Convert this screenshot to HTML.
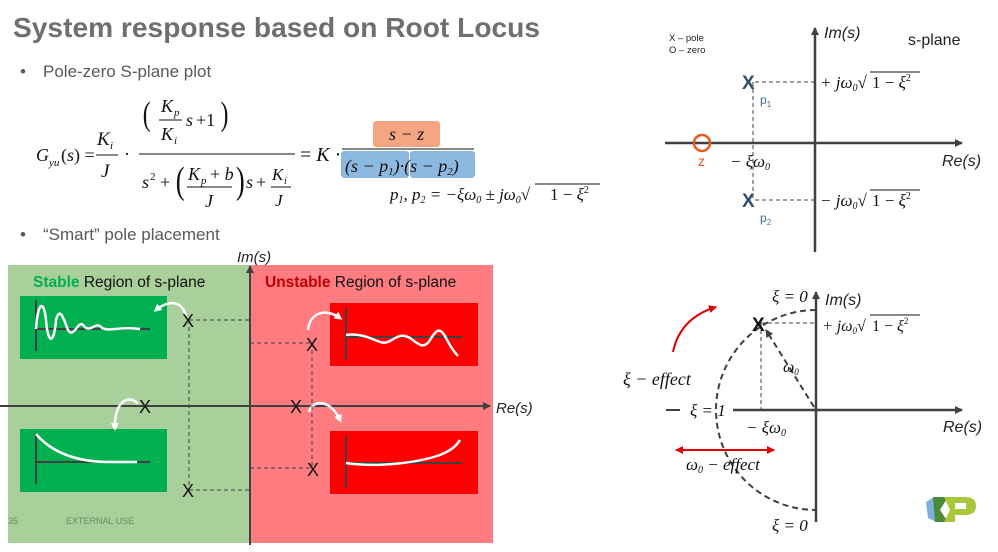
<!DOCTYPE html>
<html><head><meta charset="utf-8"><style>
html,body{margin:0;padding:0;background:#fff;}
svg{display:block;}
text{font-family:"Liberation Sans",sans-serif;}
.m{font-family:"Liberation Serif",serif;font-style:italic;fill:#111;}
.mr{font-family:"Liberation Serif",serif;fill:#111;}
</style></head><body>
<svg width="998" height="552" viewBox="0 0 998 552" xmlns="http://www.w3.org/2000/svg">
<defs>
<marker id="ah" markerWidth="8" markerHeight="8" refX="7" refY="4" orient="auto" markerUnits="userSpaceOnUse"><path d="M0,0 L8,4 L0,8 z" fill="#404040"/></marker>
<marker id="ar" markerWidth="8" markerHeight="8" refX="7" refY="4" orient="auto-start-reverse" markerUnits="userSpaceOnUse"><path d="M0,0 L8,4 L0,8 z" fill="#e00000"/></marker>
<marker id="aw" markerWidth="8" markerHeight="8" refX="5" refY="4" orient="auto" markerUnits="userSpaceOnUse"><path d="M0,0 L8,4 L0,8 z" fill="#fff"/></marker>
</defs>
<!-- title -->
<text x="13" y="37" font-size="28" font-weight="bold" fill="#6f6f6f" textLength="527" lengthAdjust="spacingAndGlyphs">System response based on Root Locus</text>
<text x="20" y="77" font-size="17" fill="#595959">•</text>
<text x="43" y="77" font-size="17" fill="#595959">Pole-zero S-plane plot</text>
<text x="20" y="240" font-size="17" fill="#595959">•</text>
<text x="43" y="240" font-size="17" fill="#595959">“Smart” pole placement</text>

<!-- formula -->
<text x="36" y="161" class="m" font-size="18">G</text><text x="49" y="166" class="m" font-size="11">yu</text>
<text x="61" y="161" class="mr" font-size="18">(<tspan class="m">s</tspan>) =</text>
<text x="97" y="145" class="m" font-size="19">K</text><text x="110" y="149" class="m" font-size="11">i</text>
<line x1="96" y1="155" x2="118" y2="155" stroke="#111" stroke-width="1"/>
<text x="101" y="177" class="m" font-size="19">J</text>
<text x="124" y="160" class="mr" font-size="18">·</text>
<text x="143" y="125" class="mr" font-size="34" transform="scale(0.7,1) translate(61,0)">(</text>
<text x="161" y="112" class="m" font-size="18">K</text><text x="174" y="116" class="m" font-size="11">p</text>
<line x1="159" y1="120" x2="182" y2="120" stroke="#111" stroke-width="1"/>
<text x="161" y="140" class="m" font-size="18">K</text><text x="174" y="144" class="m" font-size="11">i</text>
<text x="186" y="126" class="m" font-size="18">s</text><text x="196" y="126" class="mr" font-size="18">+1</text>
<text x="219" y="125" class="mr" font-size="34" transform="scale(0.7,1) translate(96,0)">)</text>
<line x1="139" y1="154" x2="295" y2="154" stroke="#111" stroke-width="1"/>
<text x="142" y="188" class="m" font-size="18">s</text><text x="150" y="180" class="mr" font-size="11">2</text>
<text x="160" y="188" class="mr" font-size="18">+</text>
<text x="176" y="193" class="mr" font-size="38" transform="scale(0.7,1) translate(75,0)">(</text>
<text x="188" y="180" class="m" font-size="18">K</text><text x="201" y="184" class="m" font-size="11">p</text><text x="210" y="180" class="mr" font-size="18">+ <tspan class="m">b</tspan></text>
<line x1="187" y1="187" x2="232" y2="187" stroke="#111" stroke-width="1"/>
<text x="205" y="207" class="m" font-size="18">J</text>
<text x="236" y="193" class="mr" font-size="38" transform="scale(0.7,1) translate(101,0)">)</text>
<text x="246" y="188" class="m" font-size="18">s</text><text x="256" y="188" class="mr" font-size="18">+</text>
<text x="272" y="180" class="m" font-size="17">K</text><text x="284" y="184" class="m" font-size="10">i</text>
<line x1="271" y1="187" x2="291" y2="187" stroke="#111" stroke-width="1"/>
<text x="275" y="206" class="m" font-size="17">J</text>
<text x="300" y="161" class="mr" font-size="20">= <tspan class="m">K</tspan> ·</text>
<rect x="373" y="121" width="67" height="26" rx="3" fill="#f4a582"/>
<text x="389" y="140" class="m" font-size="18" fill="#333">s − z</text>
<line x1="342" y1="149" x2="474" y2="149" stroke="#111" stroke-width="1"/>
<rect x="341" y="151" width="68" height="27" rx="3" fill="#8db8e0"/>
<rect x="410" y="151" width="65" height="27" rx="3" fill="#8db8e0"/>
<text x="345" y="172" class="m" font-size="18">(s − p<tspan font-size="11" dy="3">1</tspan><tspan dy="-3">)·(s − p</tspan><tspan font-size="11" dy="3">2</tspan><tspan dy="-3">)</tspan></text>
<text x="390" y="200" class="m" font-size="17">p<tspan font-size="10" dy="3">1</tspan><tspan dy="-3">, p</tspan><tspan font-size="10" dy="3">2</tspan><tspan dy="-3"> = −ξω</tspan><tspan font-size="10" dy="3">0</tspan><tspan dy="-3"> ± jω</tspan><tspan font-size="10" dy="3">0</tspan><tspan dy="-3">√</tspan></text>
<line x1="535" y1="184" x2="600" y2="184" stroke="#111" stroke-width="1"/>
<text x="550" y="200" class="mr" font-size="17">1 − <tspan class="m">ξ</tspan><tspan font-size="10" dy="-7">2</tspan></text>

<!-- top-right s-plane -->
<text x="669" y="41" font-size="9.5" fill="#222">X – pole</text>
<text x="669" y="53" font-size="9.5" fill="#222">O – zero</text>
<line x1="815" y1="252" x2="815" y2="28" stroke="#404040" stroke-width="2.5" marker-end="url(#ah)"/>
<line x1="665" y1="143" x2="962" y2="143" stroke="#404040" stroke-width="2.5" marker-end="url(#ah)"/>
<text x="824" y="38" font-size="16" font-style="italic" fill="#222">Im(s)</text>
<text x="908" y="45" font-size="16" fill="#222">s-plane</text>
<text x="942" y="166" font-size="16" font-style="italic" fill="#222">Re(s)</text>
<g stroke="#404040" stroke-width="1" stroke-dasharray="4,3" fill="none">
<path d="M755 82H815M755 200H815M753 82V200"/>
</g>
<text x="742" y="89" font-size="19" font-weight="bold" fill="#2f4f6f">X</text>
<text x="742" y="207" font-size="19" font-weight="bold" fill="#2f4f6f">X</text>
<text x="760" y="104" font-size="12" fill="#3b6f9f">p<tspan font-size="8" dy="3">1</tspan></text>
<text x="760" y="222" font-size="12" fill="#3b6f9f">p<tspan font-size="8" dy="3">2</tspan></text>
<circle cx="702" cy="143" r="8" fill="none" stroke="#e8581f" stroke-width="2.5"/>
<text x="698" y="166" font-size="14" fill="#e8581f">z</text>
<text x="730" y="167" class="m" font-size="17">− ξω<tspan font-size="10" dy="3">0</tspan></text>
<text x="820" y="88" class="m" font-size="17">+ jω<tspan font-size="10" dy="3">0</tspan><tspan dy="-3">√</tspan></text>
<line x1="870" y1="72" x2="920" y2="72" stroke="#111" stroke-width="1"/>
<text x="872" y="88" class="mr" font-size="17">1 − <tspan class="m">ξ</tspan><tspan font-size="10" dy="-7">2</tspan></text>
<text x="820" y="206" class="m" font-size="17">− jω<tspan font-size="10" dy="3">0</tspan><tspan dy="-3">√</tspan></text>
<line x1="870" y1="190" x2="920" y2="190" stroke="#111" stroke-width="1"/>
<text x="872" y="206" class="mr" font-size="17">1 − <tspan class="m">ξ</tspan><tspan font-size="10" dy="-7">2</tspan></text>

<!-- bottom-right -->
<line x1="816" y1="522" x2="816" y2="292" stroke="#404040" stroke-width="2.5" marker-end="url(#ah)"/>
<line x1="733" y1="410" x2="962" y2="410" stroke="#404040" stroke-width="2.5" marker-end="url(#ah)"/>
<line x1="666" y1="410" x2="680" y2="410" stroke="#404040" stroke-width="2"/>
<path d="M816 310 A100 100 0 0 0 816 510" fill="none" stroke="#404040" stroke-width="2" stroke-dasharray="6,4"/>
<g stroke="#404040" stroke-width="1" stroke-dasharray="4,3"><path d="M761 323H816M761 323V410"/></g>
<line x1="814" y1="407" x2="766" y2="330" stroke="#404040" stroke-width="2" stroke-dasharray="6,4" marker-end="url(#ah)"/>
<text x="752" y="331" font-size="19" font-weight="bold" fill="#111">X</text>
<text x="783" y="372" class="m" font-size="16">ω<tspan font-size="9" dy="3">0</tspan></text>
<text x="772" y="302" class="m" font-size="17">ξ <tspan class="mr">= 0</tspan></text>
<text x="772" y="531" class="m" font-size="17">ξ <tspan class="mr">= 0</tspan></text>
<text x="825" y="305" font-size="16" font-style="italic" fill="#222">Im(s)</text>
<text x="822" y="331" class="m" font-size="16">+ jω<tspan font-size="9" dy="3">0</tspan><tspan dy="-3">√</tspan></text>
<line x1="870" y1="315" x2="920" y2="315" stroke="#111" stroke-width="1"/>
<text x="872" y="331" class="mr" font-size="16">1 − <tspan class="m">ξ</tspan><tspan font-size="9" dy="-7">2</tspan></text>
<text x="690" y="416" class="m" font-size="17">ξ <tspan class="mr">= 1</tspan></text>
<text x="746" y="433" class="m" font-size="17">− ξω<tspan font-size="10" dy="3">0</tspan></text>
<text x="943" y="432" font-size="16" font-style="italic" fill="#222">Re(s)</text>
<text x="623" y="385" class="m" font-size="18">ξ − effect</text>
<path d="M673 352 Q680 318 716 307" fill="none" stroke="#e00000" stroke-width="2" marker-end="url(#ar)"/>
<line x1="676" y1="450" x2="774" y2="450" stroke="#e00000" stroke-width="2" marker-start="url(#ar)" marker-end="url(#ar)"/>
<text x="686" y="470" class="m" font-size="17">ω<tspan font-size="10" dy="3">0</tspan><tspan dy="-3"> − effect</tspan></text>
<!-- logo -->
<path d="M926 502 L934 497 L936 522 L928 518 Z" fill="#7fb0dc"/>
<path d="M933 497 L948 497 L940 510 L948 522 L935 522 Z" fill="#4a8a3a"/>
<path d="M944 497 H965 Q976 497 976 506 Q976 515 965 515 H955 V522 H944 L950 510 Z" fill="#a8c83a"/>
<rect x="955" y="503" width="11" height="6" fill="#fff"/>

<!-- bottom-left regions -->
<rect x="8" y="265" width="242" height="278" fill="#a9d09a"/>
<rect x="250" y="265" width="243" height="278" fill="#ff7c80"/>
<line x1="250" y1="545" x2="250" y2="266" stroke="#404040" stroke-width="2" marker-end="url(#ah)"/>
<line x1="0" y1="406" x2="490" y2="406" stroke="#404040" stroke-width="2" marker-end="url(#ah)"/>
<text x="237" y="262" font-size="15" font-style="italic" fill="#222">Im(s)</text>
<text x="496" y="413" font-size="15" font-style="italic" fill="#222">Re(s)</text>
<text x="33" y="287" font-size="15.5" fill="#111"><tspan font-weight="bold" fill="#00b050">Stable</tspan> Region of s-plane</text>
<text x="265" y="287" font-size="15.5" fill="#111"><tspan font-weight="bold" fill="#c00000">Unstable</tspan> Region of s-plane</text>
<rect x="20" y="296" width="147" height="63" fill="#00b050"/>
<rect x="20" y="429" width="147" height="63" fill="#00b050"/>
<rect x="330" y="303" width="148" height="63" fill="#ff0000"/>
<rect x="330" y="431" width="148" height="63" fill="#ff0000"/>
<g stroke="#404040" stroke-width="2" fill="none">
<path d="M36 351V300M36 329H150"/><path d="M36 484V433M36 462H150"/>
<path d="M346 360V307M346 337H462"/><path d="M346 488V435M346 463H462"/>
</g>
<g stroke="#fff" stroke-width="2.5" fill="none">
<path d="M36 329 C38 300 44 300 46 320 C48 345 54 345 56 320 C60 305 64 320 68 330 C74 340 78 318 84 326 C90 334 96 320 102 328 C110 332 120 326 140 329"/>
<path d="M36 434 Q60 462 110 462 L137 462"/>
<path d="M346 335 C360 333 370 338 380 342 C392 346 396 330 410 338 C418 344 424 350 430 340 C436 330 440 326 446 338 C450 346 454 352 458 356"/>
<path d="M346 463 C380 468 420 462 440 455 C452 450 456 446 460 440"/>
<path d="M186 316 C182 300 168 300 156 310" marker-end="url(#aw)"/>
<path d="M308 330 C310 312 326 308 340 318" marker-end="url(#aw)"/>
<path d="M138 404 C130 394 114 400 115 428" marker-end="url(#aw)"/>
<path d="M309 412 C312 400 330 398 340 420" marker-end="url(#aw)"/>
</g>
<g stroke="#404040" stroke-width="1" stroke-dasharray="4,3"><path d="M189 320H250M189 490H250M189 320V490M250 343H312M250 468H312M312 343V468"/></g>
<g font-size="18" fill="#111">
<text x="182" y="327">X</text><text x="182" y="497">X</text><text x="139" y="413">X</text>
<text x="306" y="351">X</text><text x="290" y="413">X</text><text x="307" y="476">X</text>
</g>
<text x="8" y="524" font-size="9" fill="#6a8a60">35</text>
<text x="66" y="524" font-size="9" fill="#6a8a60">EXTERNAL USE</text>
</svg>
</body></html>
